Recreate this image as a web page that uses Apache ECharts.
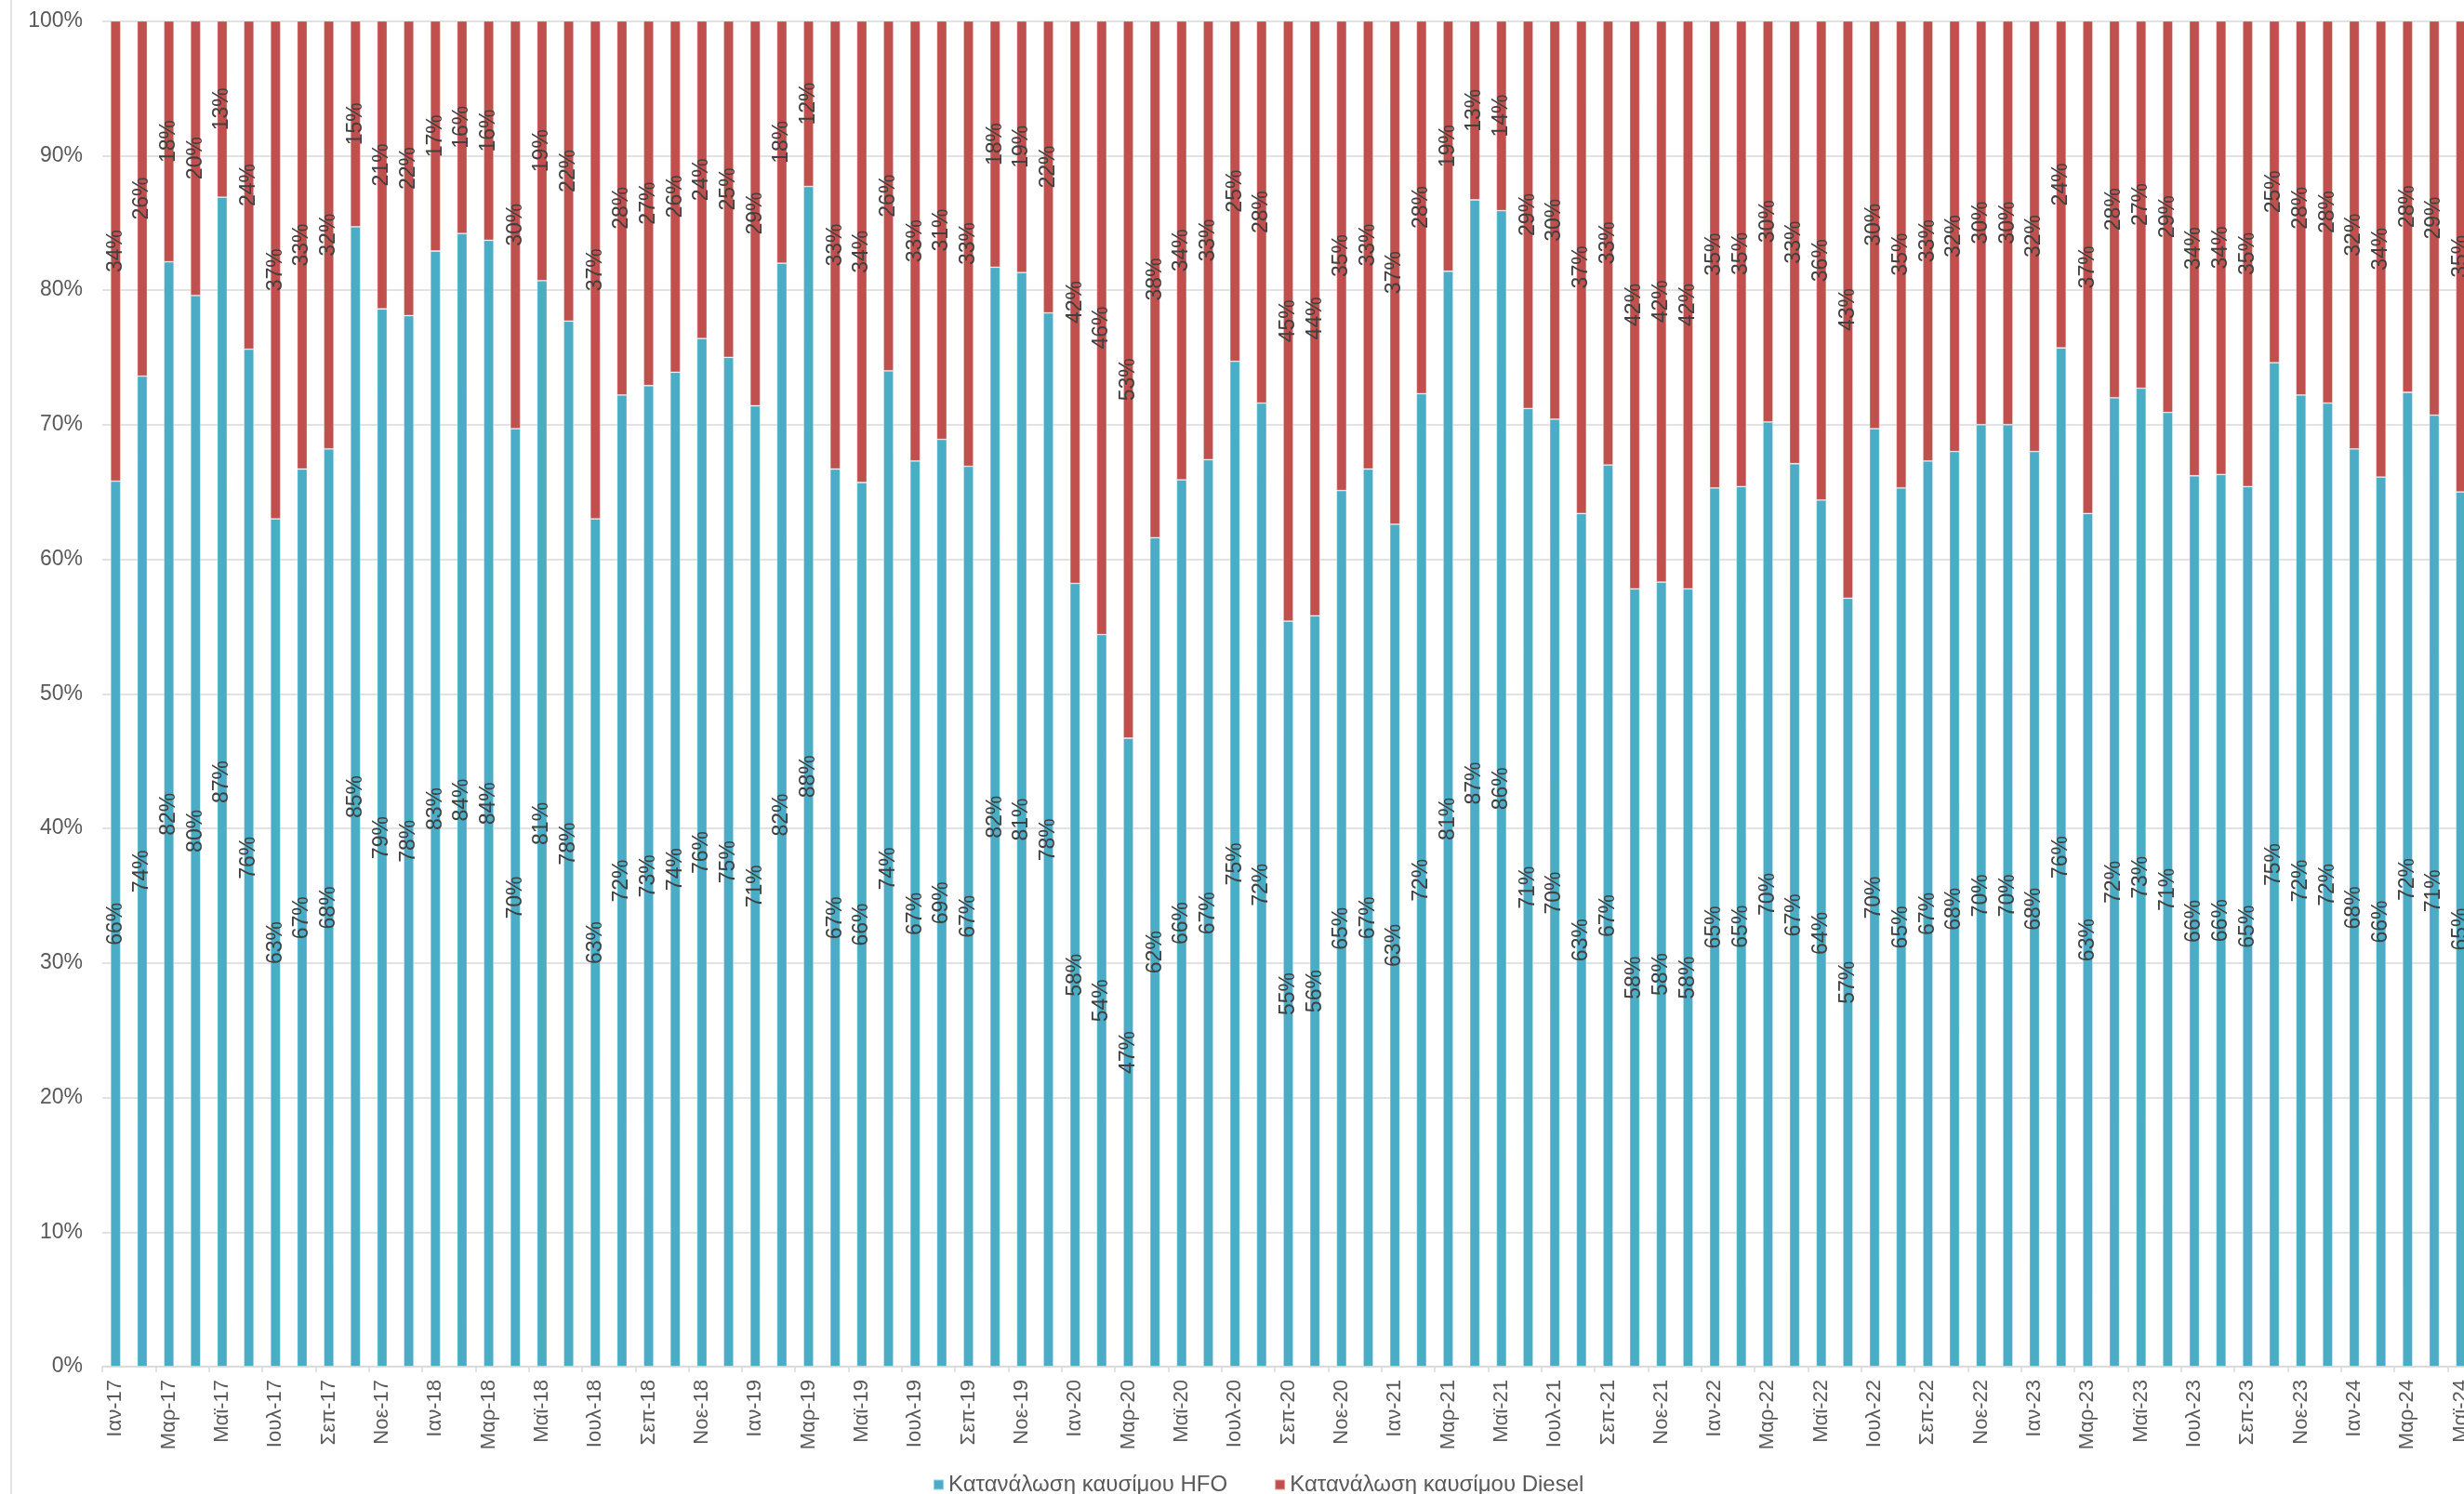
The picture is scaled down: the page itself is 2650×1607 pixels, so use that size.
<!DOCTYPE html>
<html>
<head>
<meta charset="utf-8">
<title>Κατανάλωση καυσίμου</title>
<script src="https://cdn.jsdelivr.net/npm/echarts@6/dist/echarts.min.js"></script>
<style>
  html, body { margin: 0; padding: 0; background: #fff; overflow: hidden; }
  /* a bit wider than the window: the plot runs past the right edge, as in the original */
  #chart { width: 2661px; height: 1607px; }
</style>
</head>
<body>
<div id="chart"></div>
<script>
// months, Ιαν-17 .. Μαϊ-24
var monthNames = ['Ιαν', 'Φεβ', 'Μαρ', 'Απρ', 'Μαϊ', 'Ιουν', 'Ιουλ', 'Αυγ', 'Σεπ', 'Οκτ', 'Νοε', 'Δεκ'];
var years = ['17', '18', '19', '20', '21', '22', '23', '24'];
var categories = [];
for (var y = 0; y < years.length; y++) {
	for (var m = 0; m < 12; m++) {
		if (y == years.length - 1 && m > 4) break;
		categories.push(monthNames[m] + '-' + years[y]);
	}
}

// share of HFO (%)
var hfo = [
	65.8, 73.6, 82.1, 79.6, 86.9, 75.6, 63.0, 66.7, 68.2, 84.7, 78.6, 78.1,
	82.9, 84.2, 83.7, 69.7, 80.7, 77.7, 63.0, 72.2, 72.9, 73.9, 76.4, 75.0,
	71.4, 82.0, 87.7, 66.7, 65.7, 74.0, 67.3, 68.9, 66.9, 81.7, 81.3, 78.3,
	58.2, 54.4, 46.7, 61.6, 65.9, 67.4, 74.7, 71.6, 55.4, 55.8, 65.1, 66.7,
	62.6, 72.3, 81.4, 86.7, 85.9, 71.2, 70.4, 63.4, 67.0, 57.8, 58.3, 57.8,
	65.3, 65.4, 70.2, 67.1, 64.4, 57.1, 69.7, 65.3, 67.3, 68.0, 70.0, 70.0,
	68.0, 75.7, 63.4, 72.0, 72.7, 70.9, 66.2, 66.3, 65.4, 74.6, 72.2, 71.6,
	68.2, 66.1, 72.4, 70.7, 65.0
];

// share of Diesel (%)
var diesel = [
	34.2, 26.4, 17.9, 20.4, 13.1, 24.4, 37.0, 33.3, 31.8, 15.3, 21.4, 21.9,
	17.1, 15.8, 16.3, 30.3, 19.3, 22.3, 37.0, 27.8, 27.1, 26.1, 23.6, 25.0,
	28.6, 18.0, 12.3, 33.3, 34.3, 26.0, 32.7, 31.1, 33.1, 18.3, 18.7, 21.7,
	41.8, 45.6, 53.3, 38.4, 34.1, 32.6, 25.3, 28.4, 44.6, 44.2, 34.9, 33.3,
	37.4, 27.7, 18.6, 13.3, 14.1, 28.8, 29.6, 36.6, 33.0, 42.2, 41.7, 42.2,
	34.7, 34.6, 29.8, 32.9, 35.6, 42.9, 30.3, 34.7, 32.7, 32.0, 30.0, 30.0,
	32.0, 24.3, 36.6, 28.0, 27.3, 29.1, 33.8, 33.7, 34.6, 25.4, 27.8, 28.4,
	31.8, 33.9, 27.6, 29.3, 35.0
];

var yTicks = [0, 10, 20, 30, 40, 50, 60, 70, 80, 90, 100];

var seriesNames = ['Κατανάλωση καυσίμου HFO', 'Κατανάλωση καυσίμου Diesel'];
var colors = ['#4BACC6', '#C0504D'];
var font = "'Liberation Sans', Arial, sans-serif";

var chart = echarts.init(document.getElementById('chart'));

function barLabel() {
	return {
		show: true,
		position: 'inside',
		rotate: 90,
		fontFamily: font,
		fontSize: 23,
		color: '#404040',
		formatter: function(p) { return Math.round(p.value) + '%'; }
	};
}

var option = {
	animation: false,
	backgroundColor: '#fff',
	color: colors,
	grid: { left: 110, right: 0, top: 22.5, bottom: 137, containLabel: false },
	legend: {
		left: 998,
		top: 1580,
		icon: 'rect',
		itemWidth: 11,
		itemHeight: 11,
		itemGap: 50,
		textStyle: { fontFamily: font, fontSize: 24, color: '#595959' },
		data: seriesNames
	},
	xAxis: {
		type: 'category',
		data: categories,
		boundaryGap: true,
		axisLine: { lineStyle: { color: '#d9d9d9', width: 1.5 } },
		axisTick: { show: true, interval: 1, length: 6, lineStyle: { color: '#d9d9d9', width: 1.5 } },
		axisLabel: {
			interval: 1,
			rotate: 90,
			margin: 14,
			hideOverlap: false,
			fontFamily: font,
			fontSize: 22,
			color: '#595959'
		}
	},
	yAxis: {
		type: 'value',
		min: yTicks[0],
		max: yTicks[yTicks.length - 1],
		interval: 10,
		axisLine: { show: false },
		axisTick: { show: false },
		splitLine: { lineStyle: { color: '#d9d9d9', width: 1.5 } },
		axisLabel: {
			margin: 21,
			fontFamily: font,
			fontSize: 23,
			color: '#595959',
			formatter: '{value}%'
		}
	},
	graphic: [{
		type: 'line',
		shape: { x1: 12, y1: 0, x2: 12, y2: 1607 },
		style: { stroke: '#d9d9d9', lineWidth: 1.5 },
		silent: true
	}],
	series: [{
		name: seriesNames[0],
		type: 'bar',
		stack: 'fuel',
		barWidth: 11,
		data: hfo,
		itemStyle: { color: colors[0], borderColor: 'rgba(255,255,255,0.45)', borderWidth: 0.8 },
		label: barLabel()
	}, {
		name: seriesNames[1],
		type: 'bar',
		stack: 'fuel',
		barWidth: 11,
		data: diesel,
		itemStyle: { color: colors[1], borderColor: 'rgba(255,255,255,0.45)', borderWidth: 0.8 },
		label: barLabel()
	}]
};

chart.setOption(option);
</script>
</body>
</html>
